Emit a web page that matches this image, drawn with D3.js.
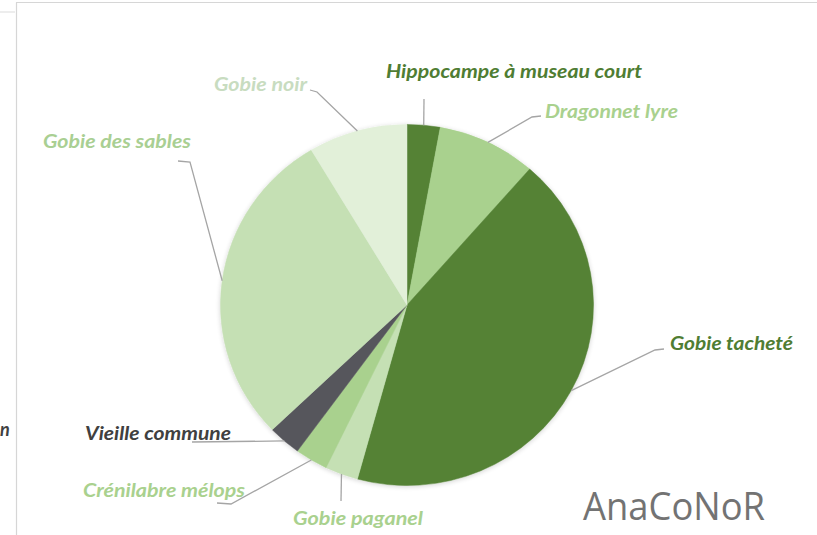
<!DOCTYPE html>
<html>
<head>
<meta charset="utf-8">
<script src="https://cdn.jsdelivr.net/npm/d3@7"></script>
<style>
  html, body { margin: 0; padding: 0; background: #ffffff; }
  svg { display: block; }
</style>
</head>
<body>
<svg id="chart" width="817" height="535"></svg>
<script>
// Species recorded (counts per species)
const species = [
  "Hippocampe à museau court",
  "Dragonnet lyre",
  "Gobie tacheté",
  "Gobie paganel",
  "Crénilabre mélops",
  "Vieille commune",
  "Gobie des sables",
  "Gobie noir"
];
const counts = [1, 3, 15, 1, 1, 1, 10, 3];
const sliceColors = ["#548235", "#a9d18e", "#548235", "#c5e0b4", "#a9d18e", "#57575c", "#c5e0b4", "#e2f0d9"];
const labelColors = ["#4f7d33", "#a9d18e", "#4f7d33", "#a9d18e", "#a9d18e", "#404040", "#a9cf93", "#c8dcc0"];

// Label placement: text left edge, baseline, fitted width, and elbow points of the leader
const labelLayout = [
  { x: 386, y: 78,  w: 256, elbow: [[424, 99]] },
  { x: 545, y: 118, w: 133, elbow: [[541, 116], [532, 117]] },
  { x: 670, y: 350, w: 123, elbow: [[664, 349], [655, 350]] },
  { x: 293, y: 525, w: 130, elbow: [[341, 501]] },
  { x: 83,  y: 497, w: 162, elbow: [[217, 503], [231, 504]] },
  { x: 85,  y: 440, w: 146, elbow: [[192, 442]] },
  { x: 43,  y: 148, w: 148, elbow: [[178, 161], [190, 162]] },
  { x: 214, y: 91,  w: 93,  elbow: [[310, 90], [317, 92]] }
];

const svg = d3.select("#chart");
const cx = 407, cy = 305, r = 186.5, squash = 0.968;

// Outer frame of the chart panel
const frame = svg.append("g").attr("stroke", "#d6d6d6").attr("stroke-width", 1.2).attr("fill", "none");
frame.append("line").attr("x1", 16.5).attr("y1", 2.5).attr("x2", 16.5).attr("y2", 535);
frame.append("line").attr("x1", 16).attr("y1", 2.5).attr("x2", 817).attr("y2", 2.5);
frame.append("line").attr("x1", 0).attr("y1", 12).attr("x2", 15).attr("y2", 12).attr("stroke", "#e2e2e2");

// Fragment of the neighbouring panel's text
svg.append("text")
  .attr("x", 0).attr("y", 436)
  .attr("font-family", "Lato, 'Open Sans', sans-serif")
  .attr("font-style", "italic").attr("font-weight", 700)
  .attr("font-size", 18).attr("fill", "#404040")
  .text("n");

const defs = svg.append("defs");
const shadow = defs.append("filter").attr("id", "soft").attr("x", "-10%").attr("y", "-10%").attr("width", "120%").attr("height", "120%");
shadow.append("feGaussianBlur").attr("in", "SourceAlpha").attr("stdDeviation", 2.5).attr("result", "b");
shadow.append("feOffset").attr("in", "b").attr("dx", 0).attr("dy", 1).attr("result", "o");
shadow.append("feComponentTransfer").attr("in", "o").attr("result", "s")
  .append("feFuncA").attr("type", "linear").attr("slope", 0.18);
const merge = shadow.append("feMerge");
merge.append("feMergeNode").attr("in", "s");
merge.append("feMergeNode").attr("in", "SourceGraphic");

const pie = d3.pie().sort(null).value(d => d.value);
const arcs = pie(species.map((s, i) => ({ name: s, value: counts[i], i })));
const arc = d3.arc().innerRadius(0).outerRadius(r);

const pieG = svg.append("g")
  .attr("transform", `translate(${cx},${cy}) scale(1,${squash})`)
  .attr("filter", "url(#soft)");

pieG.selectAll("path.slice")
  .data(arcs)
  .join("path")
  .attr("class", "slice")
  .attr("d", arc)
  .attr("fill", d => sliceColors[d.data.i])
  .attr("stroke", d => sliceColors[d.data.i])
  .attr("stroke-width", 0.5);

// Point on the rim at a slice's mid angle, in page coordinates
function rimPoint(d) {
  const a = (d.startAngle + d.endAngle) / 2;
  return [cx + r * Math.sin(a), cy - r * squash * Math.cos(a)];
}

const leader = d3.line();
svg.append("g")
  .selectAll("path.leader")
  .data(arcs)
  .join("path")
  .attr("class", "leader")
  .attr("d", d => leader([...labelLayout[d.data.i].elbow, rimPoint(d)]))
  .attr("fill", "none")
  .attr("stroke", "#a5a5a5")
  .attr("stroke-width", 1.3);

svg.append("g")
  .selectAll("text.label")
  .data(arcs)
  .join("text")
  .attr("class", "label")
  .attr("x", d => labelLayout[d.data.i].x)
  .attr("y", d => labelLayout[d.data.i].y)
  .attr("textLength", d => labelLayout[d.data.i].w)
  .attr("lengthAdjust", "spacingAndGlyphs")
  .attr("font-family", "Lato, 'Open Sans', sans-serif")
  .attr("font-style", "italic")
  .attr("font-weight", 700)
  .attr("font-size", 18)
  .attr("fill", d => labelColors[d.data.i])
  .text(d => d.data.name);

// Watermark
svg.append("text")
  .attr("x", 583).attr("y", 520)
  .attr("textLength", 182).attr("lengthAdjust", "spacingAndGlyphs")
  .attr("font-family", "'Open Sans', 'Noto Sans', sans-serif")
  .attr("font-size", 38)
  .attr("fill", "#737373")
  .text("AnaCoNoR");
</script>
</body>
</html>
